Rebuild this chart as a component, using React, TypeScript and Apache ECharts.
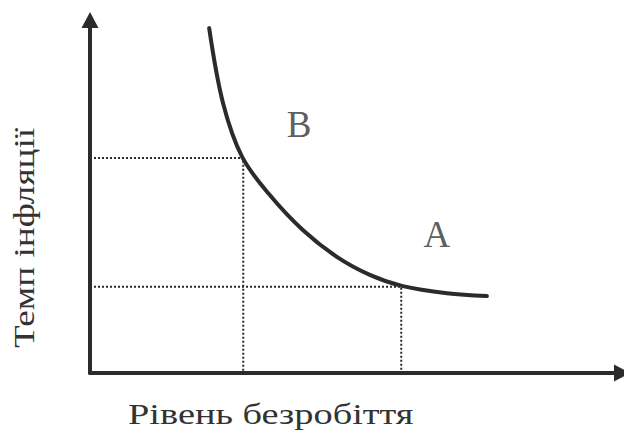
import React, { useEffect, useRef } from "react";
import * as echarts from "echarts";

// Phillips curve (unemployment x, inflation y), arbitrary units 0..10
const curveX = [2.24, 2.5, 2.86, 3.38, 4.0, 4.64, 5.26, 5.88, 6.71, 7.46];
const curveY = [9.77, 7.65, 6.12, 5.04, 4.05, 3.29, 2.78, 2.46, 2.26, 2.18];

// Guide points (dotted projections onto the axes)
const pointB = [2.88, 6.09];
const pointA = [5.85, 2.44];

// Point letters
const letterNames = ["B", "A"];
const letterX = [3.93, 6.52];
const letterY = [7.05, 3.92];

const xTitle = "Рівень безробіття";
const yTitle = "Темп інфляції";

export default function App() {
  const ref = useRef<HTMLDivElement>(null);
  useEffect(() => {
    if (!ref.current) return;
    const chart = echarts.init(ref.current, null, { renderer: "svg" });
    const ink = "#2b2b2b";
    const serif = "'Liberation Serif', 'DejaVu Serif', serif";
    const axisCommon = {
      type: "value" as const,
      min: 0,
      max: 10,
      axisLine: {
        show: true,
        onZero: false,
        symbol: ["none", "triangle"],
        symbolSize: [17, 16],
        lineStyle: { color: ink, width: 4 },
      },
      axisTick: { show: false },
      axisLabel: { show: false },
      splitLine: { show: false },
    };
    chart.setOption({
      animation: false,
      grid: { left: 90, right: 10, top: 20, bottom: 70 },
      xAxis: axisCommon,
      yAxis: axisCommon,
      graphic: [
        {
          type: "text",
          x: 128,
          y: 414,
          scaleX: 1.28,
          style: {
            text: xTitle,
            font: `30px ${serif}`,
            fill: "#333",
            align: "left",
            verticalAlign: "middle",
          },
        },
        {
          type: "text",
          x: 24,
          y: 238,
          rotation: Math.PI / 2,
          scaleX: 1.24,
          style: {
            text: yTitle,
            font: `30px ${serif}`,
            fill: "#333",
            align: "center",
            verticalAlign: "middle",
          },
        },
      ],
      series: [
        {
          type: "line",
          data: [[0, pointB[1]], [pointB[0], pointB[1]], [pointB[0], 0]],
          symbol: "none",
          lineStyle: { color: ink, width: 2, type: [2, 2] },
          z: 1,
        },
        {
          type: "line",
          data: [[0, pointA[1]], [pointA[0], pointA[1]], [pointA[0], 0]],
          symbol: "none",
          lineStyle: { color: ink, width: 2, type: [2, 2] },
          z: 1,
        },
        {
          type: "line",
          data: curveX.map((x, i) => [x, curveY[i]]),
          smooth: 0.35,
          symbol: "none",
          lineStyle: { color: ink, width: 4, cap: "round" },
          z: 3,
        },
        {
          type: "scatter",
          data: letterX.map((x, i) => ({ value: [x, letterY[i]], name: letterNames[i] })),
          symbolSize: 1,
          itemStyle: { color: "rgba(0,0,0,0)" },
          label: {
            show: true,
            position: "inside",
            formatter: (p: any) => p.name,
            fontFamily: serif,
            fontSize: 37,
            color: "#333",
          },
        },
      ],
    });
    return () => chart.dispose();
  }, []);
  return <div ref={ref} style={{ width: 632, height: 443, margin: -8 }} />;
}
